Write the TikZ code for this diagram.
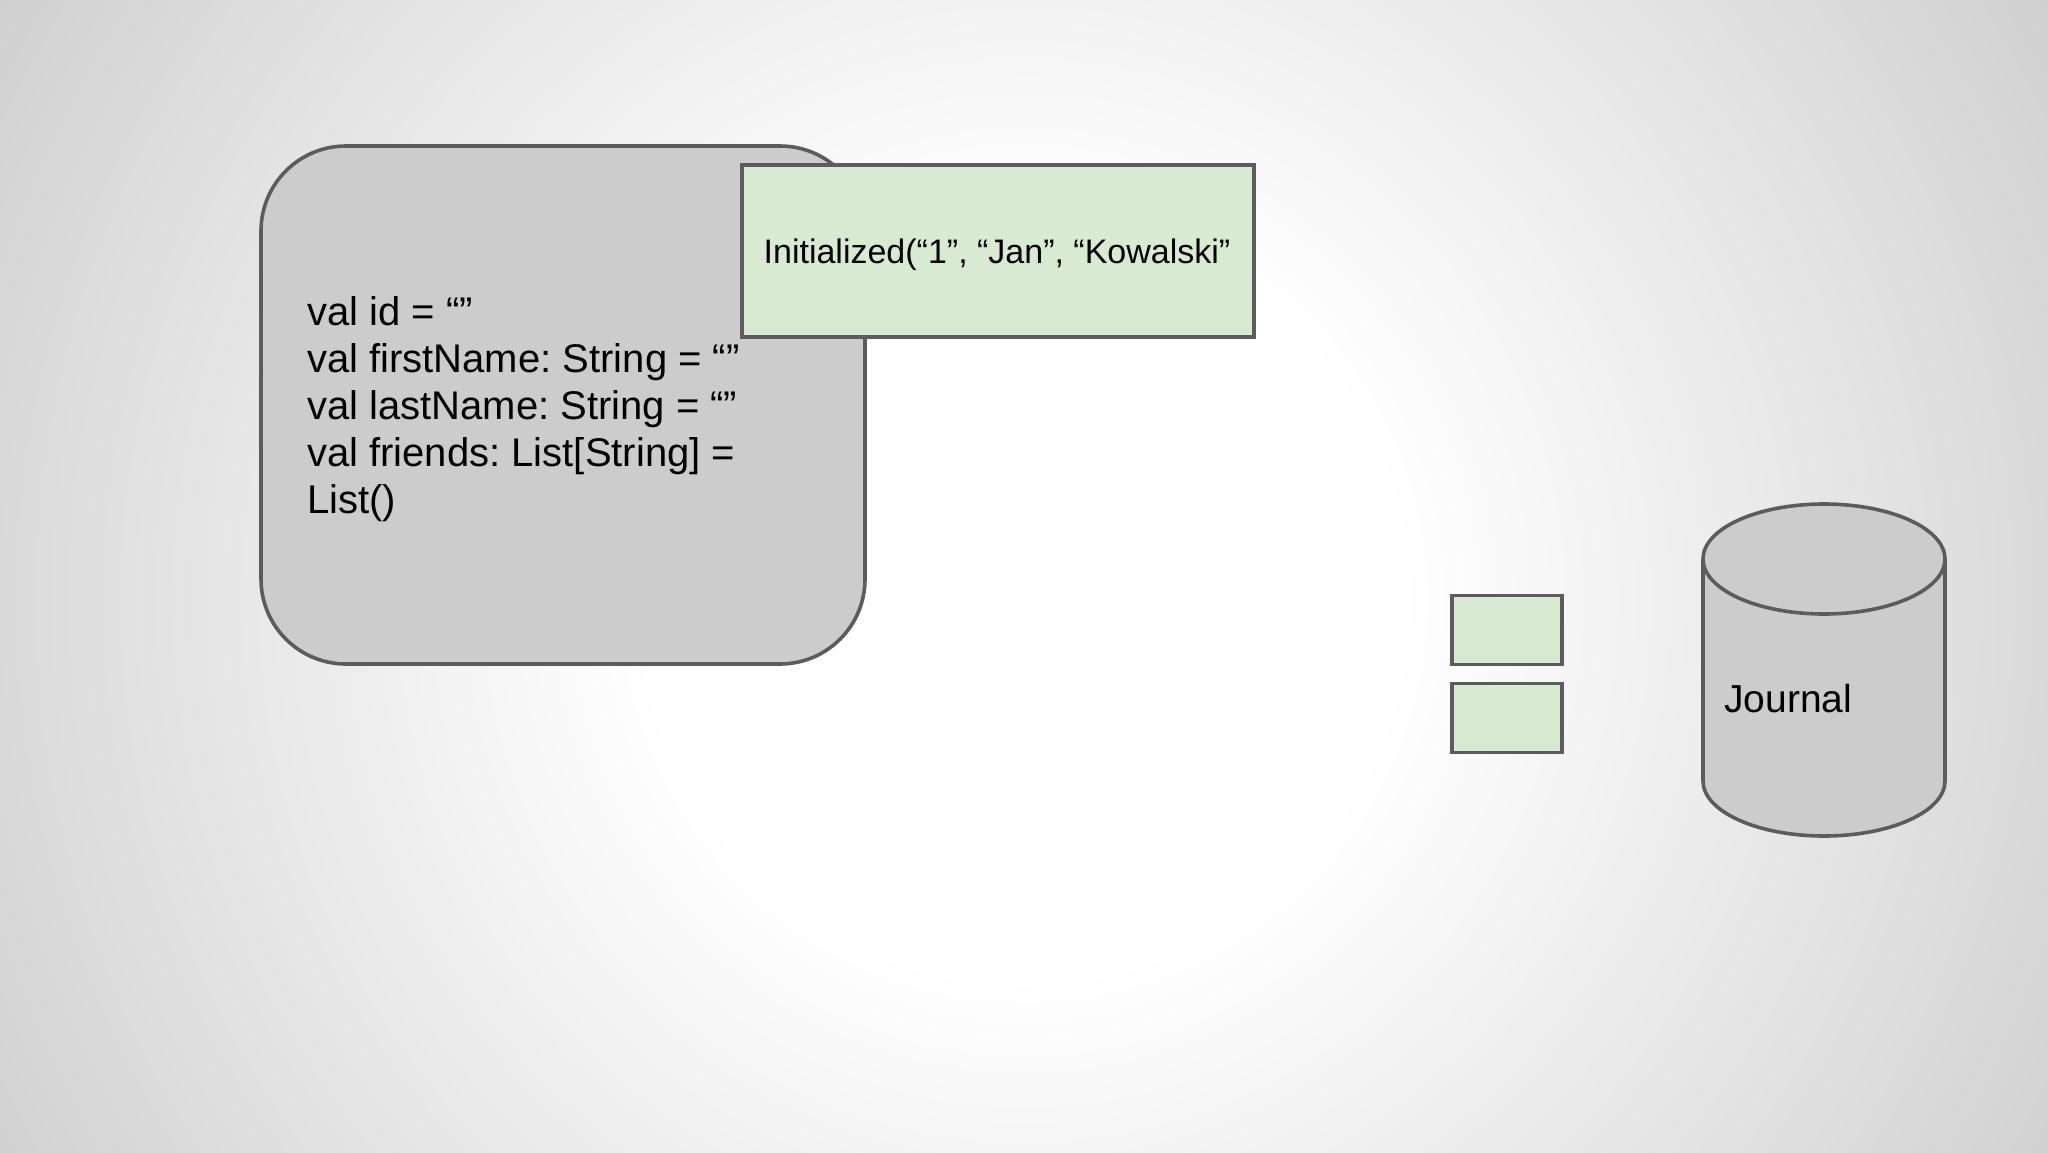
\documentclass[tikz,border=0pt]{standalone}
\usepackage{fontspec}
\setmainfont{Liberation Sans}
\frenchspacing
\definecolor{bggray}{HTML}{CCCCCC}
\definecolor{edge}{HTML}{5C5C5C}
\definecolor{boxgray}{HTML}{CCCCCC}
\definecolor{boxgreen}{HTML}{D9EAD3}
\pgfdeclareradialshading{bgshade}{\pgfpoint{0bp}{0bp}}{color(0bp)=(white); color(7.5bp)=(white); color(25bp)=(bggray); color(50bp)=(bggray)}
\tikzset{
  outl/.style={draw=edge, line width=3.6bp},
  greenbox/.style={outl, fill=boxgreen, rectangle, inner sep=0pt},
}
\begin{document}
\begin{tikzpicture}[x=1bp, y=-1bp]
\useasboundingbox (0,0) rectangle (2048,1152);
\begin{scope}
\clip (0,0) rectangle (2048,1152);
\shade[shading=bgshade] (1024,600) circle[radius=1258];
\end{scope}
% state box
\node[outl, fill=boxgray, rectangle, rounded corners=85bp, minimum width=604bp, minimum height=518bp,
  inner sep=0pt] (state) at (563,405) {};
\node[anchor=base west, align=left, inner sep=0pt, font=\fontsize{40bp}{47bp}\selectfont]
  (statetext) at (307,513) {val id = “”\\val firstName: String = “”\\val lastName: String = “”\\val friends: List[String] =\\List()};
% event
\node[greenbox, minimum width=512bp, minimum height=172bp] (event) at (998,251) {};
\node[anchor=base, inner sep=0pt, font=\fontsize{34bp}{40bp}\selectfont]
  (eventtext) at (997,263) {Initialized(“1”, “Jan”, “Kowalski”};
% small queued events
\node[greenbox, minimum width=110bp, minimum height=69bp] (q1) at (1507,630) {};
\node[greenbox, minimum width=110bp, minimum height=69bp] (q2) at (1507,718) {};
% journal cylinder
\fill[boxgray] (1703,559) -- (1703,781) arc[start angle=180, end angle=0, x radius=121, y radius=55] -- (1945,559) -- cycle;
\draw[edge, line width=3.6bp] (1703,559) -- (1703,781) arc[start angle=180, end angle=0, x radius=121, y radius=55] -- (1945,559);
\draw[outl, fill=boxgray] (1824,559) ellipse[x radius=121, y radius=55];
\node[anchor=base west, inner sep=0pt, font=\fontsize{39bp}{46bp}\selectfont] (journal) at (1724,712) {Journal};
\end{tikzpicture}
\end{document}
